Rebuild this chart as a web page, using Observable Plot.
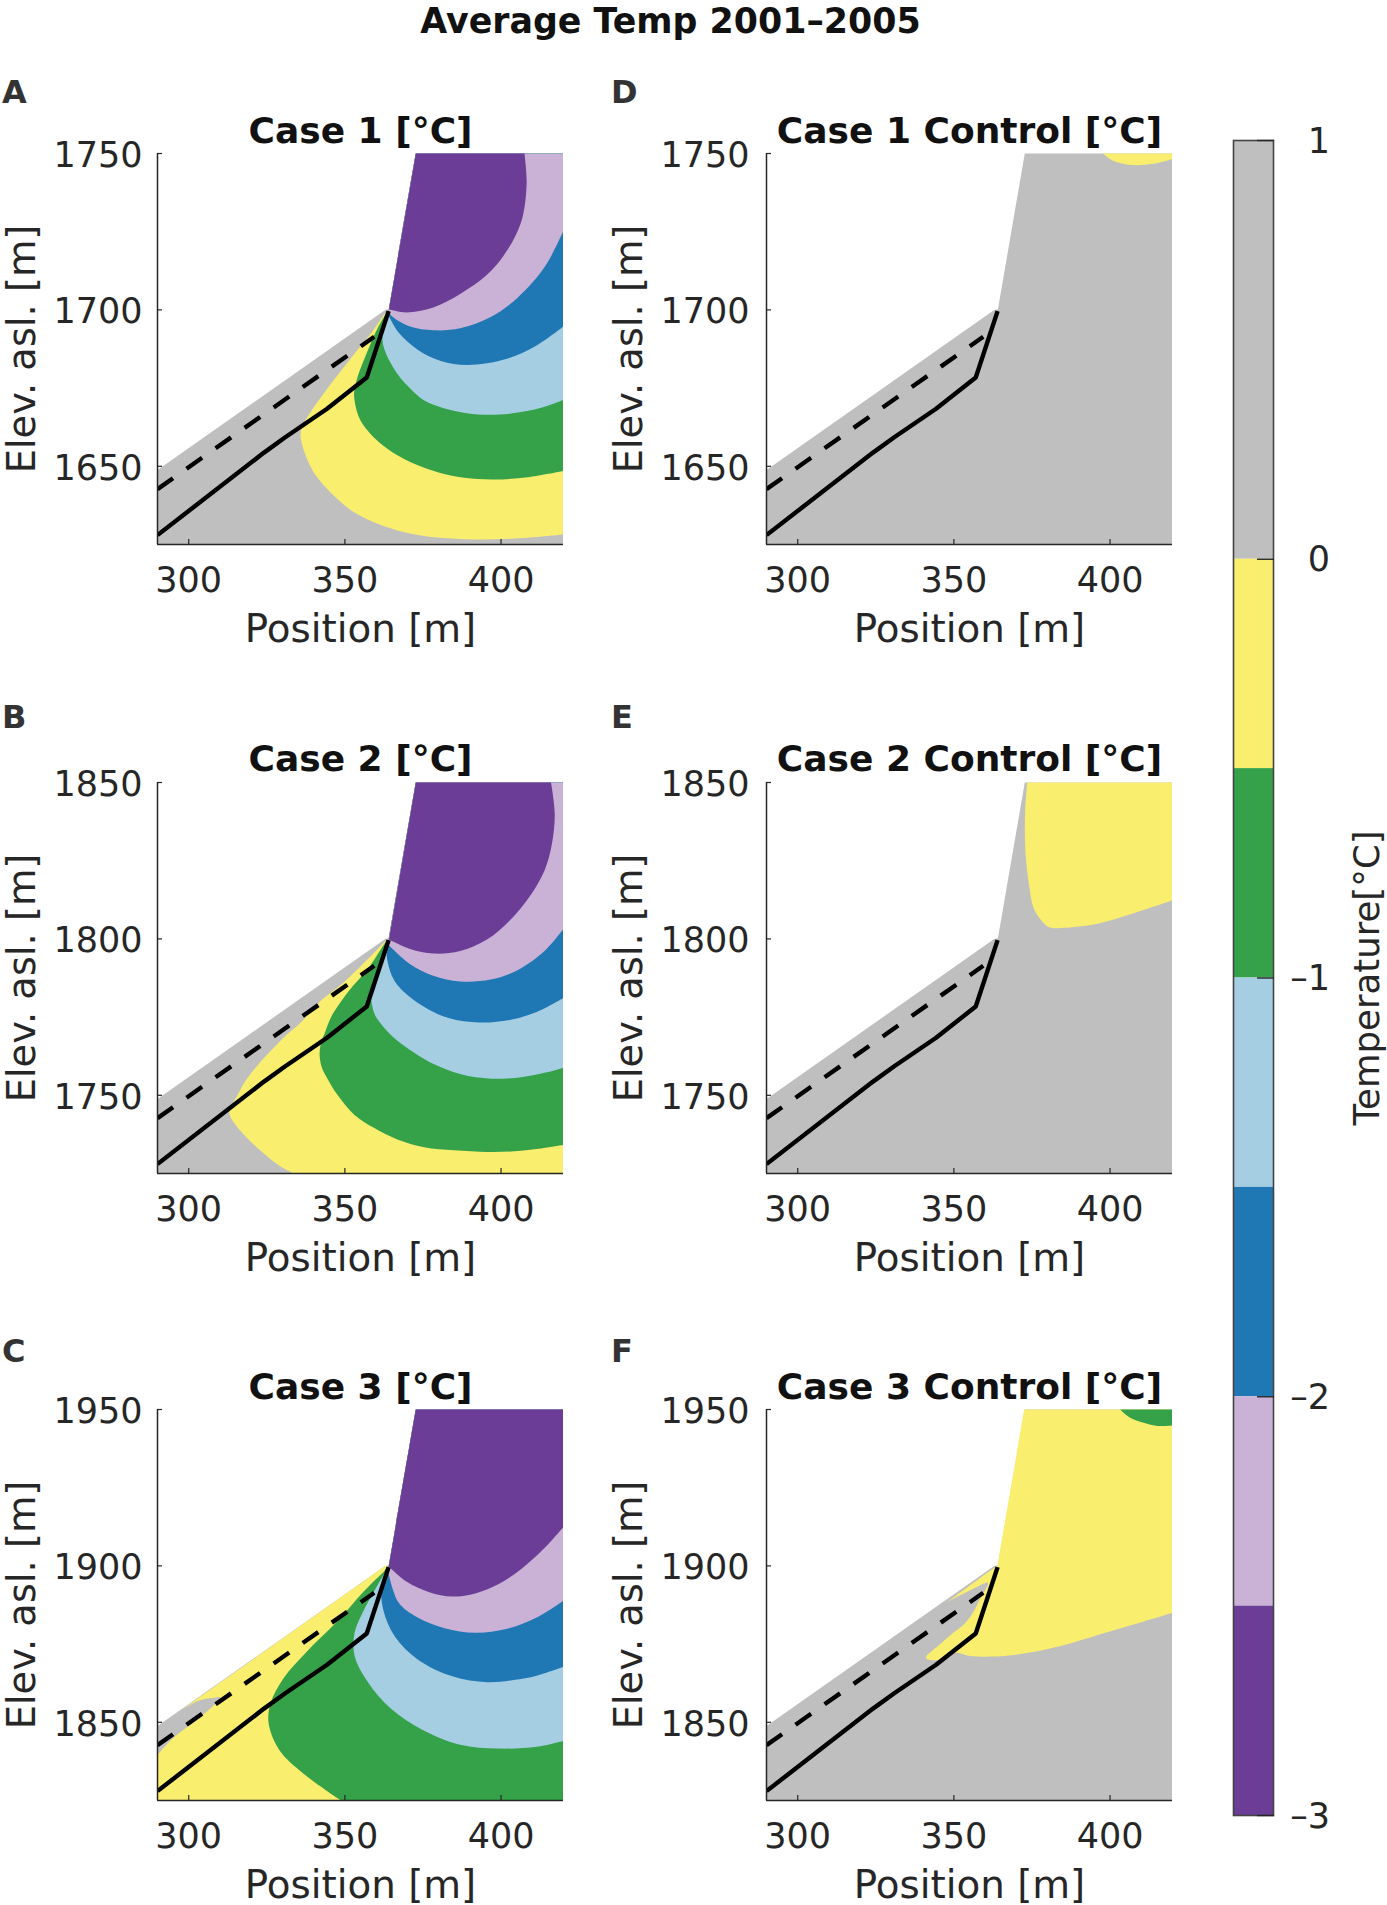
<!DOCTYPE html>
<html>
<head>
<meta charset="utf-8">
<script src="https://cdn.jsdelivr.net/npm/d3@7"></script>
<script src="https://cdn.jsdelivr.net/npm/@observablehq/plot@0.6"></script>
<style>
  body { margin: 0; background: white; width: 1387px; height: 1905px; position: relative; overflow: hidden; }
  .panel { position: absolute; }
  .panel svg { overflow: visible; max-width: none; }
  #main-title { position: absolute; left: 0; width: 1341px; top: 4.5px; height: 32px; text-align: center;
    font: bold 34.8px/32px "DejaVu Sans"; color: #111; }
</style>
</head>
<body>
<div id="main-title">Average Temp 2001–2005</div>
<script>
// temperature classes, warm to cold
const grey = "#bfbfbf", yellow = "#f9ee6d", green = "#35a249", lightBlue = "#a6cee3",
      blue = "#1f78b4", lilac = "#c9b2d6", purple = "#6c3d96";
const levelColors = [grey, yellow, green, lightBlue, blue, lilac, purple];
const levelTop = [1, 0, -0.5, -1, -1.5, -2, -2.5];
const levelBottom = [0, -0.5, -1, -1.5, -2, -2.5, -3];
const colorbarTicks = [1, 0, -1, -2, -3];

const xTicks = [300, 350, 400];
const xDomain = [290, 420];

// bed (solid) and dashed line, same positions in all cases
const bedX = [290, 324, 330.8, 344.3, 357, 364];
const bedElev1 = [1628, 1654.3, 1659.2, 1668.4, 1678.4, 1699.6];
const bedElev2 = [1728, 1754.3, 1759.2, 1768.4, 1778.4, 1799.6];
const bedElev3 = [1828, 1854.3, 1859.2, 1868.4, 1878.4, 1899.6];
const dashX = [290, 359.4];
const dashElev1 = [1642.7, 1691.4];
const dashElev2 = [1742.7, 1791.4];
const dashElev3 = [1842.7, 1891.4];

const terrain1 = [[290, 1625], [290, 1648.8], [362.9, 1700], [364.1, 1700.2], [372.7, 1750], [420, 1750], [420, 1625]];
const terrain2 = [[290, 1725], [290, 1748.8], [362.9, 1800], [364.1, 1800.2], [372.7, 1850], [420, 1850], [420, 1725]];
const terrain3 = [[290, 1825], [290, 1848.8], [362.9, 1900], [364.1, 1900.2], [372.7, 1950], [420, 1950], [420, 1825]];

// contour outlines
const a0 = [[362.9, 1699], [358.6, 1692.8], [352.5, 1685.3], [345.1, 1675.8], [339, 1667.3], [336.4, 1663], [335.8, 1660.4], [336, 1658.3], [337.4, 1653.5], [340, 1648.1], [343.3, 1643.9], [347.5, 1639.6], [352.9, 1635.3], [359.3, 1632.1], [366.8, 1629.5], [374.3, 1627.9], [382.9, 1627], [393.6, 1626.6], [404.3, 1626.9], [415, 1627.7], [420, 1628.2]];
const a1 = [[363.3, 1699], [360.4, 1694], [356.9, 1686], [354.2, 1679], [353, 1674], [353.1, 1671], [354.5, 1665.7], [357.2, 1661.5], [361.5, 1657.2], [366.8, 1653.5], [372.2, 1650.8], [379.7, 1648.1], [388.2, 1646.3], [397.9, 1645.8], [408.6, 1646.5], [420, 1648.5]];
const a2 = [[363.4, 1698.5], [362, 1691.6], [362.9, 1686.7], [367.2, 1679], [371, 1674.8], [375.4, 1671], [380.7, 1668.9], [387.2, 1667.3], [394.6, 1666.5], [404.3, 1667], [412.8, 1668.7], [420, 1671.3]];
const a3 = [[363.5, 1699.2], [364.1, 1698], [367.2, 1692.8], [373.3, 1687.3], [380.7, 1683.7], [389.3, 1682.4], [401.6, 1684.3], [411.4, 1688.6], [420, 1694.7]];
const a4 = [[363.9, 1699.8], [364.7, 1698.3], [370.9, 1694.7], [378.3, 1693.5], [386.9, 1694.1], [396.7, 1697.7], [405.3, 1703.9], [413.9, 1713.6], [420, 1725.3]];
const a5 = [[364.1, 1700.2], [369.7, 1699.2], [378.3, 1700.8], [386.9, 1705.1], [395.5, 1711.2], [401.6, 1718.5], [406.5, 1728.3], [408.2, 1740.6], [407.5, 1750]];

const b0 = [[362.3, 1798.6], [350, 1786.4], [342, 1780], [335.8, 1773.2], [331.5, 1769.5], [327.2, 1765.2], [321.8, 1759.3], [318.1, 1754.5], [315.4, 1749.7], [313.4, 1746], [313.1, 1743.9], [314.9, 1740.7], [317.6, 1737.5], [320.8, 1734.3], [325.1, 1730.5], [329.3, 1727.3], [333.6, 1725], [333.6, 1725], [420, 1725], [420, 1725]];
const b1 = [[362.3, 1798], [357.4, 1790.5], [351, 1783], [345.6, 1775], [343.6, 1770], [342.3, 1766.5], [341.9, 1763], [342.6, 1759], [344.6, 1755], [347.5, 1750.3], [352.9, 1743.9], [359.3, 1739.6], [366.8, 1735.9], [375.4, 1733.4], [385, 1732.4], [395.7, 1731.9], [404.3, 1732.1], [412.8, 1733], [420, 1734.1]];
const b2 = [[362.9, 1797.4], [359.2, 1786.4], [358.4, 1781.5], [359.5, 1776], [360.9, 1773.7], [365.7, 1768.4], [372.2, 1763.6], [378.6, 1759.9], [387.2, 1756.7], [396.8, 1755.3], [406.4, 1755.8], [413.9, 1757.2], [420, 1758.8]];
const b3 = [[363.5, 1797.4], [363.5, 1793.7], [366, 1786.4], [373.3, 1779.6], [383.2, 1774.7], [393, 1773.3], [402.8, 1774.1], [411.4, 1776.6], [420, 1781.1]];
const b4 = [[363.5, 1798.5], [370.9, 1791.9], [378.3, 1788.2], [386.9, 1786.4], [396.7, 1787], [405.3, 1790], [413.9, 1796.1], [420, 1803.2]];
const b5 = [[364.1, 1799.8], [370.9, 1796.8], [378.3, 1795.3], [386.9, 1796.1], [395.5, 1799.8], [402.8, 1805.9], [409, 1813.3], [413.9, 1821.8], [416.3, 1830.4], [417.2, 1840.2], [416, 1850]];

const c0 = [[362.9, 1900], [362.9, 1900], [297.2, 1853.6], [297.2, 1853.6], [303.3, 1857], [307.6, 1857.8], [310, 1858], [308.2, 1855.6], [300.9, 1849.5], [294.7, 1844.7], [290, 1839.6], [290, 1839.6], [290, 1825], [290, 1825], [420, 1825], [420, 1825]];
const c1 = [[362.3, 1898], [356.1, 1891.9], [347.5, 1882.2], [337.7, 1872.5], [330.3, 1864], [326.2, 1856], [325.6, 1849.5], [329.1, 1841], [336.5, 1833.8], [343.9, 1828.3], [348.8, 1825], [348.8, 1825], [420, 1825], [420, 1825]];
const c2 = [[362.9, 1898], [356.1, 1885.9], [353.1, 1878.6], [353.1, 1871.3], [357.4, 1862.8], [364.7, 1854.4], [374.6, 1847.7], [386.9, 1842.8], [399.1, 1841.6], [411.4, 1842.2], [420, 1844.1]];
const c3 = [[363.3, 1898], [361.7, 1893.2], [362.3, 1885.9], [366, 1877.4], [373.3, 1870.1], [384.4, 1864.7], [395.5, 1862.8], [404, 1863.5], [411.4, 1864.9], [420, 1867.7]];
const c4 = [[363.9, 1898], [367.2, 1888.3], [373.3, 1883.5], [381.9, 1880.1], [391.8, 1878.6], [401.6, 1879.8], [411.4, 1883.5], [420, 1888.9]];
const c5 = [[364.1, 1899.8], [369.7, 1895], [377, 1891.6], [384.4, 1890.2], [391.8, 1891.2], [399.1, 1894.1], [406.5, 1899], [413.9, 1905.7], [420, 1912.5]];

const d0 = [[397.8, 1750], [400.9, 1747.7], [407, 1746.3], [413.8, 1746.7], [420, 1748.2]];
const e0 = [[373.5, 1850], [372.8, 1840.2], [372.9, 1828], [374.1, 1817], [375.6, 1809.6], [378, 1805.9], [380.5, 1803.7], [384.2, 1803.5], [395.2, 1804.7], [406.3, 1807.8], [420, 1812.3]];
const f0 = [[348, 1888.5], [348, 1888.5], [364, 1900.2], [364, 1900.2], [372.5, 1950], [372.5, 1950], [420, 1950], [420, 1950], [420, 1885], [420, 1885], [408.7, 1881.6], [396.4, 1878], [384.2, 1874.4], [371.9, 1871.9], [362.1, 1871], [354.7, 1871.3], [350.4, 1872.2], [346.1, 1870.1], [342.5, 1869.9], [341.2, 1870.4], [341.2, 1871.1], [344.9, 1874.4], [349.8, 1878.6], [353.5, 1881.6], [356.6, 1885.9], [358.4, 1889.5], [360.2, 1892.5], [360.9, 1894.6], [355.9, 1892.5], [351, 1890.1]];
const f1 = [[403.2, 1950], [406.9, 1947.1], [412.4, 1945.3], [416.1, 1944.7], [420, 1944.9]];

// corners that close a contour along the top and the terrain
const close1 = [[420, 1750], [372.7, 1750], [364.1, 1700.2]];
const close2 = [[420, 1850], [372.7, 1850], [364.1, 1800.2]];
const close3 = [[420, 1950], [372.7, 1950], [364.1, 1900.2]];

const panels = [
  {letter: "A", title: "Case 1 [°C]", left: 157, top: 153, letterDy: -51, titleDy: -11, yDomain: [1625, 1750], yTicks: [1650, 1700, 1750],
   terrain: terrain1, bed: bedElev1, dash: dashElev1,
   regions: [[a0, yellow, close1], [a1, green, close1], [a2, lightBlue, close1], [a3, blue, close1], [a4, lilac, close1], [a5, purple, [[372.7, 1750]]]]},
  {letter: "B", title: "Case 2 [°C]", left: 157, top: 782, letterDy: -55, titleDy: -12, yDomain: [1725, 1850], yTicks: [1750, 1800, 1850],
   terrain: terrain2, bed: bedElev2, dash: dashElev2,
   regions: [[b0, yellow, close2], [b1, green, close2], [b2, lightBlue, close2], [b3, blue, close2], [b4, lilac, close2], [b5, purple, [[372.7, 1850]]]]},
  {letter: "C", title: "Case 3 [°C]", left: 157, top: 1409, letterDy: -48, titleDy: -11, yDomain: [1825, 1950], yTicks: [1850, 1900, 1950],
   terrain: terrain3, bed: bedElev3, dash: dashElev3,
   regions: [[c0, yellow, close3], [c1, green, close3], [c2, lightBlue, close3], [c3, blue, close3], [c4, lilac, close3], [c5, purple, close3]]},
  {letter: "D", title: "Case 1 Control [°C]", left: 765.5, top: 153, letterDy: -51, titleDy: -11, yDomain: [1625, 1750], yTicks: [1650, 1700, 1750],
   terrain: terrain1, bed: bedElev1, dash: dashElev1,
   regions: [[d0, yellow, [[420, 1750]]]]},
  {letter: "E", title: "Case 2 Control [°C]", left: 765.5, top: 782, letterDy: -55, titleDy: -12, yDomain: [1725, 1850], yTicks: [1750, 1800, 1850],
   terrain: terrain2, bed: bedElev2, dash: dashElev2,
   regions: [[e0, yellow, [[420, 1850]]]]},
  {letter: "F", title: "Case 3 Control [°C]", left: 765.5, top: 1409, letterDy: -48, titleDy: -11, yDomain: [1825, 1950], yTicks: [1850, 1900, 1950],
   terrain: terrain3, bed: bedElev3, dash: dashElev3,
   regions: [[f0, yellow, []], [f1, green, [[420, 1950]]]]}
];

const font = "DejaVu Sans";
const ink = "#262626";
const plotW = 406, plotH = 391, mLeft = 157, mTop = 70, mBottom = 110, mRight = 20;

function place(svg, left, top) {
  let div = document.createElement("div");
  div.className = "panel";
  div.style.left = left + "px";
  div.style.top = top + "px";
  div.append(svg);
  document.body.append(div);
}

function generatePanel(p) {
  let leftCol = p.left < 400;
  let marks = [
    Plot.line(p.terrain, {x: d => d[0], y: d => d[1], fill: grey, stroke: "none", clip: true})
  ];
  for (let [arc, color, corners] of p.regions) {
    // doubled points keep the ends and corners sharp under the smoothing curve
    let outline = [arc[0], ...arc, arc[arc.length - 1], ...corners.flatMap(c => [c, c])];
    marks.push(Plot.line(outline, {x: d => d[0], y: d => d[1], fill: color, stroke: "none", curve: "catmull-rom", clip: true}));
  }
  marks.push(
    Plot.line(bedX.map((x, i) => [x, p.bed[i]]), {x: d => d[0], y: d => d[1], stroke: "black", strokeWidth: 4.4, strokeLinejoin: "miter", strokeLinecap: "butt", clip: true}),
    Plot.line(dashX.map((x, i) => [x, p.dash[i]]), {x: d => d[0], y: d => d[1], stroke: "black", strokeWidth: 4.4, strokeLinecap: "butt", strokeDasharray: "19,16.5", clip: true}),
    Plot.ruleX([xDomain[0]], {stroke: ink, strokeWidth: 1.5}),
    Plot.ruleY([p.yDomain[0]], {stroke: ink, strokeWidth: 1.5}),
    Plot.axisX(xTicks, {anchor: "bottom", tickSize: -5, tickPadding: 28, fontSize: 35, fill: ink, stroke: ink, strokeWidth: 1.2, label: null, tickFormat: "d"}),
    Plot.axisY(p.yTicks, {anchor: "left", tickSize: -5, stroke: ink, strokeWidth: 1.2, label: null, tickFormat: () => ""}),
    Plot.axisY(p.yTicks, {anchor: "left", tickSize: 0, tickPadding: leftCol ? 15 : 17, dy: 2, fontSize: 35, fill: ink, label: null, tickFormat: "d"}),
    Plot.text(["Position [m]"], {text: d => d, frameAnchor: "bottom", lineAnchor: "bottom", dy: 97.5, fontSize: 38.8, fill: ink}),
    Plot.text(["Elev. asl. [m]"], {text: d => d, frameAnchor: "left", textAnchor: "middle", lineAnchor: "bottom", rotate: -90, dx: leftCol ? -123 : -124.5, fontSize: 38.4, fill: ink}),
    Plot.text([p.title], {text: d => d, frameAnchor: "top", lineAnchor: "bottom", dy: p.titleDy, fontSize: 36, fontWeight: "bold", fill: "#111"}),
    Plot.text([p.letter], {text: d => d, frameAnchor: "top-left", lineAnchor: "bottom", dx: -155.5, dy: p.letterDy, fontSize: 32, fontWeight: "bold", fill: "#333"})
  );
  let plot = Plot.plot({
    width: mLeft + plotW + mRight,
    height: mTop + plotH + mBottom,
    marginLeft: mLeft, marginRight: mRight, marginTop: mTop, marginBottom: mBottom,
    x: {domain: xDomain},
    y: {domain: p.yDomain},
    style: {fontFamily: font, background: "transparent", overflow: "visible"},
    marks: marks
  });
  place(plot, p.left - mLeft, p.top - mTop);
}

function generateColorbar() {
  let levels = levelColors.map((c, i) => ({color: c, hi: levelTop[i], lo: levelBottom[i]}));
  let plot = Plot.plot({
    width: 164.5,
    height: 1735,
    marginLeft: 10, marginRight: 114.5, marginTop: 30, marginBottom: 30,
    y: {domain: [-3, 1]},
    color: {type: "identity"},
    style: {fontFamily: font, background: "transparent", overflow: "visible"},
    marks: [
      Plot.rectY(levels, {y1: "lo", y2: "hi", fill: "color"}),
      Plot.frame({stroke: "#444", strokeWidth: 1.6}),
      Plot.axisY(colorbarTicks, {anchor: "right", tickSize: -17, stroke: ink, strokeWidth: 1.4, label: null, tickFormat: () => ""}),
      Plot.axisY(colorbarTicks, {anchor: "right", tickSize: 0, tickPadding: 56.5, dy: 1, textAnchor: "end", fontSize: 35, fill: ink, label: null,
        tickFormat: d => d < 0 ? "–" + (-d) : String(d)}),
      Plot.text(["Temperature[°C]"], {text: d => d, frameAnchor: "right", textAnchor: "middle", lineAnchor: "bottom", rotate: -90, dx: 105.5, fontSize: 35.5, fill: ink})
    ]
  });
  place(plot, 1222.5, 109.5);
}

panels.forEach(generatePanel);
generateColorbar();
</script>
</body>
</html>
